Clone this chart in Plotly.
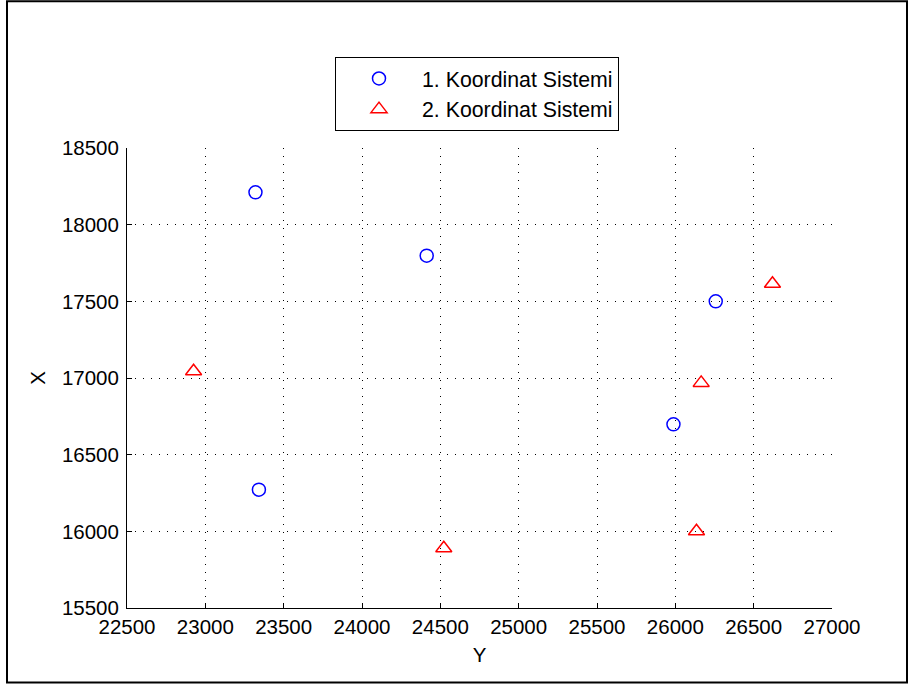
import plotly.graph_objects as go

# Data
sys1_y = [23320, 24413, 26258, 25988, 23342]
sys1_x = [18211, 17798, 17500, 16698, 16272]
sys2_y = [22925, 26620, 26165, 24522, 26135]
sys2_x = [17044, 17615, 16968, 15890, 16001]
names = ["1. Koordinat Sistemi", "2. Koordinat Sistemi"]
x_ticks = list(range(22500, 27001, 500))
y_ticks = list(range(15500, 18501, 500))

W, H = 908, 686
L, R, T, B = 127, 76, 148, 77.5
pw, ph = W - L - R, H - T - B

def px2paper_x(p):
    return (p - L) / pw

def px2paper_y(p):
    return (H - B - p) / ph

font = dict(family="Liberation Sans, Arial, sans-serif", size=20.5, color="black")
legend_font = dict(family="Liberation Sans, Arial, sans-serif", size=21.3, color="black")

fig = go.Figure()
fig.add_trace(go.Scatter(
    x=sys1_y, y=sys1_x, mode="markers", name=names[0], legendgroup="a",
    marker=dict(symbol="circle-open", size=13, color="#0000FF", line=dict(width=1.5, color="#0000FF")),
))
fig.add_trace(go.Scatter(
    x=sys2_y, y=sys2_x, mode="markers", name=names[1], legendgroup="b",
    marker=dict(symbol="triangle-up-open", size=14, color="#FF0000", line=dict(width=1.5, color="#FF0000")),
))

axis_common = dict(
    showline=True, linecolor="black", linewidth=1, mirror=False,
    ticks="inside", ticklen=5, tickcolor="black", tickwidth=1,
    showgrid=True, gridcolor="black", gridwidth=1, griddash="1px,7px",
    zeroline=False, tickfont=font, title_font=font,
)

fig.update_xaxes(range=[22500, 27000], tickvals=x_ticks, ticktext=[str(v) for v in x_ticks],
                 title_text="Y", title_standoff=11, **axis_common)
fig.update_yaxes(range=[15500, 18500], tickvals=y_ticks, ticktext=[str(v) for v in y_ticks],
                 ticklabelstandoff=3,
                 title_text="X", title_standoff=10, **axis_common)

fig.update_layout(
    width=W, height=H,
    margin=dict(l=L, r=R, t=T, b=B),
    paper_bgcolor="white", plot_bgcolor="white",
    font=font,
    showlegend=True,
    legend=dict(
        x=px2paper_x(335), y=px2paper_y(57), xanchor="left", yanchor="top",
        bgcolor="white", bordercolor="black", borderwidth=1,
        font=legend_font, traceorder="grouped", tracegroupgap=0, itemwidth=76,
    ),
    shapes=[dict(
        type="rect", xref="paper", yref="paper",
        x0=px2paper_x(7), x1=px2paper_x(907), y0=px2paper_y(683), y1=px2paper_y(1),
        line=dict(color="black", width=2), fillcolor="rgba(0,0,0,0)", layer="below",
    )],
)

fig.write_html("out.html", config={"displayModeBar": False},
               post_script="document.body.style.margin='0';")
